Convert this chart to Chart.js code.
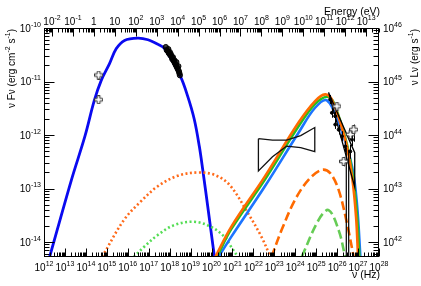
<!DOCTYPE html>
<html>
<head>
<meta charset="utf-8">
<script src="https://cdn.jsdelivr.net/npm/chart.js@4.4.1/dist/chart.umd.min.js"></script>
<style>
  html, body { margin: 0; padding: 0; background: #fff; }
  #wrap { width: 421px; height: 286px; }
</style>
</head>
<body>
<div id="wrap"><canvas id="sedChart" width="421" height="286"></canvas></div>
<script>
// frequencies in Hz, nuFnu in erg cm^-2 s^-1

// synchrotron
const syncNu = [1.82e12, 2.0e13, 9.1e13, 2.51e14, 5.37e14, 1.33e15, 2.8e15, 7.0e15, 3.06e16, 9.25e16, 2.8e17, 5.87e17, 3.2e18, 7.26e18, 1.51e19, 2.62e19, 3.82e19, 6.64e19, 1.38e20];
const syncFlux = [5.13e-15, 1.41e-13, 9.6e-13, 4.38e-12, 1.04e-11, 2.13e-11, 4.08e-11, 5.87e-11, 6.49e-11, 6.03e-11, 4.94e-11, 4.08e-11, 1.27e-11, 5.33e-12, 1.95e-12, 6.14e-13, 2.24e-13, 4.57e-14, 5.25e-15];

// SSC states
const sscOrangeNu = [1.49e20, 8.75e20, 3.49e22, 1.41e24, 8.85e24, 2.68e25, 5.62e25, 2.45e26, 5.15e26, 8.02e26, 1.0e27];
const sscOrangeFlux = [5.18e-15, 1.92e-14, 1.67e-13, 1.69e-12, 4.30e-12, 5.74e-12, 4.62e-12, 8.2e-13, 1.67e-13, 2.96e-14, 5.25e-15];
const sscGreenNu = [1.76e20, 8.75e20, 3.49e22, 1.41e24, 8.85e24, 3.24e25, 6.79e25, 2.96e26, 6.21e26, 9.25e26, 1.16e27];
const sscGreenFlux = [5.18e-15, 1.74e-14, 1.45e-13, 1.44e-12, 3.81e-12, 5.2e-12, 4.06e-12, 6.61e-13, 1.27e-13, 2.57e-14, 5.25e-15];
const sscBlueNu = [2.15e20, 8.75e20, 3.49e22, 1.41e24, 8.85e24, 3.24e25, 1.18e26, 5.15e26, 8.95e26, 1.29e27];
const sscBlueFlux = [5.25e-15, 1.25e-14, 1.09e-13, 1.09e-12, 3.23e-12, 4.44e-12, 1.69e-12, 2.58e-13, 4.92e-14, 5.25e-15];

// external components (dotted / dashed)
const dotOrangeNu = [5.94e14, 6.5e15, 4.12e16, 2.62e17, 2.4e18, 2.19e19, 1.38e20, 7.26e20, 5.56e21, 2.43e22, 6.56e22];
const dotOrangeFlux = [5.25e-15, 2.57e-14, 5.68e-14, 1.09e-13, 1.73e-13, 1.99e-13, 1.80e-13, 1.17e-13, 3.44e-14, 1.25e-14, 5.25e-15];
const dotGreenNu = [1.96e16, 5.94e16, 2.62e17, 1.64e18, 1.51e19, 9.57e19, 4.17e20, 8.75e20, 1.84e21];
const dotGreenFlux = [5.25e-15, 8.09e-15, 1.34e-14, 2.07e-14, 2.39e-14, 1.92e-14, 1.25e-14, 8.09e-15, 5.25e-15];
const dashOrangeNu = [7.33e22, 2.22e23, 9.68e23, 4.27e24, 1.86e25, 4.66e25, 1.18e26, 2.96e26, 6.21e26];
const dashOrangeFlux = [5.25e-15, 1.67e-14, 6.11e-14, 1.45e-13, 2.24e-13, 1.94e-13, 9.42e-14, 2.23e-14, 5.25e-15];
const dashGreenNu = [2.03e24, 1.29e25, 3.9e25, 1.18e26, 2.45e26];
const dashGreenFlux = [5.25e-15, 2.57e-14, 3.96e-14, 1.67e-14, 5.25e-15];

// observations
const optNu = [4.07e14, 4.07e14];
const optFlux = [1.32e-11, 4.57e-12];
const xrayNu = [6.56e17, 7.33e17, 8.18e17, 8.65e17, 9.16e17, 1.02e18, 1.08e18, 1.14e18, 1.28e18, 1.35e18, 1.43e18, 1.59e18, 1.68e18, 1.78e18, 1.99e18, 2.10e18, 2.22e18, 2.48e18, 2.62e18, 2.77e18, 2.92e18, 3.09e18];
const xrayFlux = [4.40e-11, 3.85e-11, 3.70e-11, 4.03e-11, 3.39e-11, 3.54e-11, 3.10e-11, 3.24e-11, 2.85e-11, 2.61e-11, 2.85e-11, 2.40e-11, 2.50e-11, 2.20e-11, 2.02e-11, 2.30e-11, 1.85e-11, 1.69e-11, 1.93e-11, 1.56e-11, 1.43e-11, 1.31e-11];
const gammaNu = [4.66e25, 5.62e25, 8.11e25, 8.11e25, 1.18e26, 1.70e26, 2.45e26, 4.27e26, 5.15e26];
const gammaFlux = [4.62e-12, 2.60e-12, 2.25e-12, 1.57e-12, 1.26e-12, 9.46e-13, 6.14e-13, 4.94e-13, 8.2e-13];
const gammaLo = [3.8e-12, 2.1e-12, 1.85e-12, 1.3e-12, 1.02e-12, 7.6e-13, 4.8e-13, 3.6e-13, 6.2e-13];
const gammaHi = [5.6e-12, 3.2e-12, 2.75e-12, 1.9e-12, 1.55e-12, 1.18e-12, 7.8e-13, 6.6e-13, 1.06e-12];
const crossNu = [9.77e25, 4.27e26, 6.21e26, 2.06e26];
const crossFlux = [3.46e-12, 1.02e-12, 1.26e-12, 3.21e-13];
const crossLo = [2.9e-12, 8.2e-13, 7.5e-13, 2.6e-13];
const crossHi = [4.1e-12, 1.25e-12, 1.57e-12, 3.9e-13];
const ulNu = [2.74e26, 3.57e26];
const ulFlux = [5.79e-13, 5.32e-13];

// butterflies (outline, in drawing order)
const latNu = [1.74e22, 8.18e22, 3.86e23, 1.82e24, 8.57e24, 8.57e24, 1.82e24, 3.86e23, 8.18e22, 1.74e22, 1.74e22];
const latFlux = [8.55e-13, 8.02e-13, 8.02e-13, 9.75e-13, 1.38e-12, 4.88e-13, 5.79e-13, 6.18e-13, 3.93e-13, 2.14e-13, 8.55e-13];
const vheNu = [3.90e25, 6.93e26, 6.93e26, 3.90e25];
const vheFlux = [6.26e-12, 4.67e-13, 1.07e-13, 6.26e-12];

// axes
const nuMin = 1e12, nuMax = 1e28;
const fluxMin = 5.25e-15, fluxMax = 1e-10;
const H_EV = 4.1357e-15;      // eV s
const LUM_PER_FLUX = 1e56;    // nuLnu / nuFnu
const nuTickExps = [12, 13, 14, 15, 16, 17, 18, 19, 20, 21, 22, 23, 24, 25, 26, 27, 28];
const energyTickExps = [-2, -1, 0, 1, 2, 3, 4, 5, 6, 7, 8, 9, 10, 11, 12, 13];
const fluxTickExps = [-14, -13, -12, -11, -10];
const lumTickExps = [42, 43, 44, 45, 46];

const FONT = '"Liberation Sans", Arial, Helvetica, sans-serif';

function pts(xs, ys) {
  return xs.map((x, i) => ({ x: x, y: ys[i] }));
}

function logTicks(min, max) {
  const out = [];
  for (let e = Math.floor(Math.log10(min)) - 1; e <= Math.ceil(Math.log10(max)); e++) {
    for (let m = 1; m < 10; m++) {
      const v = m * Math.pow(10, e);
      if (v >= min * 0.9999 && v <= max * 1.0001) out.push({ value: v, major: m === 1 });
    }
  }
  return out;
}

function openCross(size) {
  const c = document.createElement('canvas');
  c.width = c.height = size;
  const g = c.getContext('2d');
  const a = (size - 1) / 3;
  const s = size - 1;
  const p = [[a, 0], [2 * a, 0], [2 * a, a], [s, a], [s, 2 * a], [2 * a, 2 * a], [2 * a, s], [a, s], [a, 2 * a], [0, 2 * a], [0, a], [a, a]];
  g.beginPath();
  p.forEach((q, i) => {
    const x = q[0] + 0.5, y = q[1] + 0.5;
    if (i === 0) g.moveTo(x, y); else g.lineTo(x, y);
  });
  g.closePath();
  g.fillStyle = '#fff';
  g.fill();
  g.strokeStyle = '#333';
  g.lineWidth = 1;
  g.stroke();
  return c;
}
const crossImg = openCross(9);

// "10" with a raised exponent, ROOT style
function drawPow(ctx, exp, x, y, align, plainSmall) {
  let base = '10', sup = String(exp);
  if (plainSmall && exp === 0) { base = '1'; sup = ''; }
  if (plainSmall && exp === 1) { sup = ''; }
  ctx.font = '10px ' + FONT;
  const wb = ctx.measureText(base).width;
  ctx.font = '7px ' + FONT;
  const we = sup ? ctx.measureText(sup).width : 0;
  const w = wb + we;
  const x0 = align === 'center' ? x - w / 2 : align === 'right' ? x - w : x;
  ctx.textAlign = 'left';
  ctx.textBaseline = 'alphabetic';
  ctx.font = '10px ' + FONT;
  ctx.fillText(base, x0, y);
  if (sup) {
    ctx.font = '7px ' + FONT;
    ctx.fillText(sup, x0 + wb, y - 5);
  }
}

// rich text run: [[text, isSup], ...], right-aligned at 0
function drawRun(ctx, parts) {
  let w = 0;
  parts.forEach(p => {
    ctx.font = (p[1] ? '7px ' : '10px ') + FONT;
    w += ctx.measureText(p[0]).width;
  });
  let x = -w;
  ctx.textAlign = 'left';
  ctx.textBaseline = 'alphabetic';
  parts.forEach(p => {
    ctx.font = (p[1] ? '7px ' : '10px ') + FONT;
    ctx.fillText(p[0], x, p[1] ? -5 : 0);
    x += ctx.measureText(p[0]).width;
  });
}

const errorBarPlugin = {
  id: 'errorBars',
  beforeDatasetDraw(chart, args) {
    const ds = chart.data.datasets[args.index];
    if (!ds.errLo) return;
    const ctx = chart.ctx;
    const xs = chart.scales.x, ys = chart.scales.y;
    ctx.save();
    ctx.strokeStyle = '#000';
    ctx.lineWidth = 1;
    ds.data.forEach((p, i) => {
      const px = Math.round(xs.getPixelForValue(p.x)) + 0.5;
      ctx.beginPath();
      ctx.moveTo(px, ys.getPixelForValue(ds.errHi[i]));
      ctx.lineTo(px, ys.getPixelForValue(ds.errLo[i]));
      ctx.stroke();
    });
    ctx.restore();
  }
};

const rootAxesPlugin = {
  id: 'rootAxes',
  afterDraw(chart) {
    const ctx = chart.ctx;
    const a = chart.chartArea;
    const L = Math.round(a.left) + 0.5, R = Math.round(a.right) - 0.5;
    const T = Math.round(a.top) + 0.5, B = Math.round(a.bottom) - 0.5;
    ctx.save();
    ctx.strokeStyle = '#000';
    ctx.lineWidth = 1;
    ctx.strokeRect(L, T, R - L, B - T);

    ctx.beginPath();
    chart.scales.x.ticks.forEach(t => {
      const px = Math.round(chart.scales.x.getPixelForValue(t.value)) + 0.5;
      ctx.moveTo(px, B); ctx.lineTo(px, B - (t.major ? 8 : 4));
    });
    chart.scales.xE.ticks.forEach(t => {
      const px = Math.round(chart.scales.xE.getPixelForValue(t.value)) + 0.5;
      ctx.moveTo(px, T); ctx.lineTo(px, T + (t.major ? 8 : 4));
    });
    chart.scales.y.ticks.forEach(t => {
      const py = Math.round(chart.scales.y.getPixelForValue(t.value)) + 0.5;
      ctx.moveTo(L, py); ctx.lineTo(L + (t.major ? 10 : 5), py);
    });
    chart.scales.yL.ticks.forEach(t => {
      const py = Math.round(chart.scales.yL.getPixelForValue(t.value)) + 0.5;
      ctx.moveTo(R, py); ctx.lineTo(R - (t.major ? 10 : 5), py);
    });
    ctx.stroke();

    ctx.fillStyle = '#000';
    nuTickExps.forEach(e => {
      drawPow(ctx, e, chart.scales.x.getPixelForValue(Math.pow(10, e)), a.bottom + 14, 'center', false);
    });
    energyTickExps.forEach(e => {
      drawPow(ctx, e, chart.scales.xE.getPixelForValue(Math.pow(10, e)), a.top - 3, 'center', true);
    });
    fluxTickExps.forEach(e => {
      drawPow(ctx, e, a.left - 3, chart.scales.y.getPixelForValue(Math.pow(10, e)) + 3.5, 'right', false);
    });
    lumTickExps.forEach(e => {
      drawPow(ctx, e, a.right + 4, chart.scales.yL.getPixelForValue(Math.pow(10, e)) + 3.5, 'left', false);
    });

    // axis titles
    ctx.font = '10.5px ' + FONT;
    ctx.textAlign = 'right';
    ctx.textBaseline = 'alphabetic';
    ctx.fillText('Energy (eV)', a.right + 1, 15);
    ctx.fillText('\u03bd (Hz)', a.right + 1, 278);

    ctx.save();
    ctx.translate(15, a.top + 1);
    ctx.rotate(-Math.PI / 2);
    drawRun(ctx, [['\u03bd F\u03bd (erg cm', false], ['-2', true], [' s', false], ['-1', true], [')', false]]);
    ctx.restore();

    ctx.save();
    ctx.translate(418, a.top + 1);
    ctx.rotate(-Math.PI / 2);
    drawRun(ctx, [['\u03bd L\u03bd (erg s', false], ['-1', true], [')', false]]);
    ctx.restore();

    ctx.restore();
  }
};

function curve(xs, ys, color, width, dash) {
  return {
    data: pts(xs, ys),
    showLine: true,
    borderColor: color,
    borderWidth: width,
    borderDash: dash || [],
    pointRadius: 0,
    tension: 0.35,
    clip: 0
  };
}

const datasets = [
  { data: pts(crossNu, crossFlux), errLo: crossLo, errHi: crossHi, pointStyle: crossImg, pointRadius: 4, showLine: false },
  { data: pts(optNu, optFlux), pointStyle: crossImg, pointRadius: 4, showLine: false },
  { data: pts(gammaNu, gammaFlux), errLo: gammaLo, errHi: gammaHi, pointStyle: 'circle', pointRadius: 1.5,
    backgroundColor: '#000', borderColor: '#000', borderWidth: 1, showLine: false },
  { data: pts(xrayNu, xrayFlux), pointStyle: 'circle', pointRadius: 2.6,
    backgroundColor: 'rgba(0,0,0,0.75)', borderColor: '#000', borderWidth: 1, showLine: false },
  { data: pts(vheNu, vheFlux), showLine: true, borderColor: '#000', borderWidth: 1.3, pointRadius: 0, tension: 0, clip: 0 },
  { data: pts([ulNu[0], ulNu[0]], [ulFlux[0], fluxMin]), showLine: true, borderColor: '#000', borderWidth: 1.2, pointRadius: 0, clip: 0 },
  { data: pts([ulNu[1], ulNu[1]], [ulFlux[1], fluxMin]), showLine: true, borderColor: '#000', borderWidth: 1.2, pointRadius: 0, clip: 0 },
  { data: pts(latNu, latFlux), showLine: true, borderColor: '#111', borderWidth: 1.3, pointRadius: 0, tension: 0, clip: 0 },
  curve(sscOrangeNu, sscOrangeFlux, '#ff6a00', 2.6),
  curve(sscGreenNu, sscGreenFlux, '#22c022', 2.6),
  curve(sscBlueNu, sscBlueFlux, '#1c74ff', 2.6),
  curve(dashGreenNu, dashGreenFlux, '#66cc55', 2.6, [9, 4]),
  curve(dashOrangeNu, dashOrangeFlux, '#ff6a00', 2.6, [9, 4]),
  curve(dotGreenNu, dotGreenFlux, '#55dd55', 2.6, [2, 2.5]),
  curve(dotOrangeNu, dotOrangeFlux, '#ff6a1a', 2.6, [2, 2.5]),
  curve(syncNu, syncFlux, '#0a0af0', 2.8)
];

function hiddenLogAxis(position, min, max, size) {
  const horizontal = position === 'top' || position === 'bottom';
  return {
    type: 'logarithmic',
    position: position,
    min: min,
    max: max,
    display: true,
    grid: { display: false, drawTicks: false },
    border: { display: false },
    ticks: { display: false },
    afterBuildTicks: function (scale) { scale.ticks = logTicks(scale.min, scale.max); },
    afterFit: function (scale) {
      if (horizontal) scale.height = size; else scale.width = size;
    }
  };
}

new Chart(document.getElementById('sedChart').getContext('2d'), {
  type: 'scatter',
  data: { datasets: datasets },
  options: {
    responsive: false,
    animation: false,
    events: [],
    layout: { padding: 0, autoPadding: false },
    scales: {
      x: hiddenLogAxis('bottom', nuMin, nuMax, 29),
      xE: hiddenLogAxis('top', nuMin * H_EV, nuMax * H_EV, 28),
      y: hiddenLogAxis('left', fluxMin, fluxMax, 44),
      yL: hiddenLogAxis('right', fluxMin * LUM_PER_FLUX, fluxMax * LUM_PER_FLUX, 42)
    },
    plugins: {
      legend: { display: false },
      tooltip: { enabled: false }
    }
  },
  plugins: [errorBarPlugin, rootAxesPlugin]
});
</script>
</body>
</html>
